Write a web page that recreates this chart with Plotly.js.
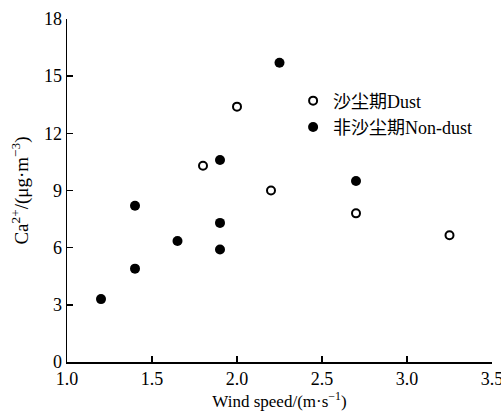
<!DOCTYPE html>
<html>
<head>
<meta charset="utf-8">
<script src="https://cdn.plot.ly/plotly-3.0.1.min.js"></script>
<style>html,body{margin:0;padding:0;background:#fff;}#chart{width:501px;height:416px;}</style>
</head>
<body>
<div id="chart"></div>
<script>
const dustName = "沙尘期Dust";
const nonDustName = "非沙尘期Non-dust";
const dustWind = [1.8, 2.0, 2.2, 2.7, 3.25];
const dustCa = [10.3, 13.4, 9.0, 7.8, 6.65];
const nonDustWind = [1.2, 1.4, 1.4, 1.65, 1.9, 1.9, 1.9, 2.25, 2.7];
const nonDustCa = [3.3, 4.9, 8.2, 6.35, 5.9, 7.3, 10.6, 15.7, 9.5];
const xTicks = [1.0, 1.5, 2.0, 2.5, 3.0, 3.5];
const xTickText = ["1.0", "1.5", "2.0", "2.5", "3.0", "3.5"];
const yTicks = [0, 3, 6, 9, 12, 15, 18];

const FONT = "'Liberation Serif', 'Times New Roman', 'Noto Sans CJK SC', serif";

const traces = [
  {
    x: dustWind, y: dustCa, name: dustName, type: 'scatter', mode: 'markers',
    marker: {symbol: 'circle-open', size: 8, color: '#000', line: {width: 2, color: '#000'}}
  },
  {
    x: nonDustWind, y: nonDustCa, name: nonDustName, type: 'scatter', mode: 'markers',
    marker: {symbol: 'circle', size: 10, color: '#000'}
  }
];

const axisCommon = {
  showgrid: false, zeroline: false, showline: true, linecolor: '#000', linewidth: 1.5,
  ticks: 'inside', ticklen: 6, tickwidth: 1.5, tickcolor: '#000',
  ticklabeloverflow: 'allow',
  tickfont: {family: FONT, size: 18, color: '#000'}
};

const layout = {
  width: 501, height: 416,
  margin: {l: 67, r: 9, t: 19, b: 54},
  paper_bgcolor: '#fff', plot_bgcolor: '#fff',
  font: {family: FONT, size: 16, color: '#000'},
  showlegend: true,
  legend: {
    x: 0.532, y: 0.815, xanchor: 'left', yanchor: 'top',
    bgcolor: 'rgba(0,0,0,0)', borderwidth: 0,
    font: {family: FONT, size: 18, color: '#000'},
    itemwidth: 30, tracegroupgap: 0
  },
  xaxis: Object.assign({}, axisCommon, {
    range: [1.0, 3.5], tickvals: xTicks, ticktext: xTickText,
    title: {text: 'Wind speed/(m·s<sup>−1</sup>)', font: {family: FONT, size: 17, color: '#000'}, standoff: 0}
  }),
  yaxis: Object.assign({}, axisCommon, {
    range: [0, 18], tickvals: yTicks,
    title: {text: 'Ca<sup>2+</sup>/(μg·m<sup>−3</sup>)', font: {family: FONT, size: 19, color: '#000'}, standoff: 10}
  })
};

Plotly.newPlot('chart', traces, layout, {displayModeBar: false, staticPlot: true});
</script>
</body>
</html>
